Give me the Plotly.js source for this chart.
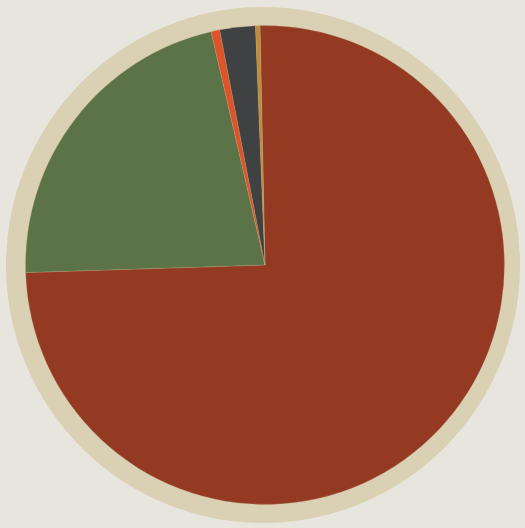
<!DOCTYPE html>
<html>
<head>
<meta charset="utf-8">
<script src="https://cdn.plot.ly/plotly-3.0.1.min.js"></script>
<style>
html,body{margin:0;padding:0;background:#e7e5dd;}
#chart{width:525px;height:528px;}
</style>
</head>
<body>
<div id="chart"></div>
<script>
const labels = ["Red", "Green", "Orange", "Gray", "Gold"];
const values = [74.85, 21.9, 0.58, 2.4, 0.3];
const colors = ["#943a23", "#5b7347", "#de5329", "#404143", "#c08b3b"];

const data = [{
  type: "pie",
  labels: labels,
  values: values,
  sort: false,
  direction: "clockwise",
  rotation: -1.2,
  marker: {colors: colors, line: {width: 0.5, color: "rgba(200,180,140,0.5)"}},
  textinfo: "none",
  hoverinfo: "label+percent",
  showlegend: false,
  domain: {x: [25.5/525, 504.5/525], y: [1 - 504.5/528, 1 - 25.5/528]}
}];

const layout = {
  width: 525,
  height: 528,
  margin: {l: 0, r: 0, t: 0, b: 0},
  paper_bgcolor: "#e7e5dd",
  plot_bgcolor: "#e7e5dd",
  showlegend: false,
  shapes: [{
    type: "circle",
    xref: "paper", yref: "paper",
    x0: 6/525, x1: 520/525,
    y0: 1 - 523/528, y1: 1 - 7/528,
    fillcolor: "#dad0b3",
    line: {width: 0},
    layer: "below"
  }]
};

Plotly.newPlot("chart", data, layout, {displayModeBar: false, staticPlot: true});
</script>
</body>
</html>
